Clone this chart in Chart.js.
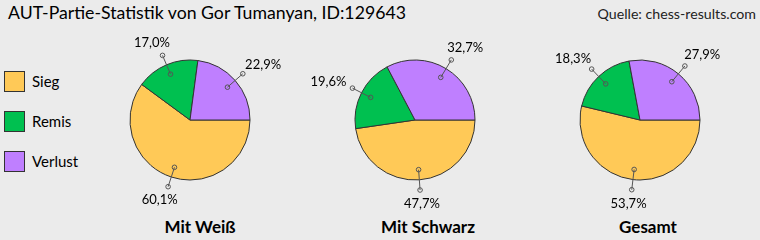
<!DOCTYPE html>
<html>
<head>
<meta charset="utf-8">
<script src="https://cdn.jsdelivr.net/npm/chart.js@4.4.1/dist/chart.umd.min.js"></script>
<style>
  body { margin: 0; width: 760px; height: 240px; background: #ebebeb; overflow: hidden;
         font-family: Lato, "Open Sans", sans-serif; color: #000; position: relative; }
  .abs { position: absolute; white-space: nowrap; }
  #title { left: 8px; top: 2px; font-size: 17.7px; }
  #source { right: 4px; top: 5px; font-size: 14.2px; color: #222; }
  .lg-box { position: absolute; left: 4px; width: 19px; height: 19px; border: 1px solid #333; box-sizing: content-box; }
  .lg-txt { position: absolute; left: 32px; font-size: 15px; line-height: 20px; }
  .sub { position: absolute; top: 216px; font-size: 17px; font-weight: bold; transform: translateX(-50%); white-space: nowrap; }
  canvas { position: absolute; }
</style>
</head>
<body>
<div id="title" class="abs">AUT-Partie-Statistik von Gor Tumanyan, ID:129643</div>
<div id="source" class="abs">Quelle: chess-results.com</div>
<div id="legend"></div>
<div id="subs"></div>
<canvas id="c0" width="240" height="190"></canvas>
<canvas id="c1" width="240" height="190"></canvas>
<canvas id="c2" width="240" height="190"></canvas>
<script>
// Daten (Prozent), Reihenfolge: Sieg, Remis, Verlust
const categories = ["Sieg", "Remis", "Verlust"];
const colors = ["#ffc957", "#00c050", "#bf7fff"];
const pieTitles = ["Mit Weiß", "Mit Schwarz", "Gesamt"];
const weiss = [60.1, 17.0, 22.9];
const schwarz = [47.7, 19.6, 32.7];
const gesamt = [53.7, 18.3, 27.9];
const series = [weiss, schwarz, gesamt];

// Lage der Kreise im Bild
const centersX = [190, 415, 640];
const centerY = 120;
const subX = [200, 428, 648];

// Legende links
const legend = document.getElementById("legend");
categories.forEach((c, i) => {
  const top = 71 + i * 40;
  legend.insertAdjacentHTML("beforeend",
    `<div class="lg-box" style="top:${top}px;background:${colors[i]}"></div>` +
    `<div class="lg-txt" style="top:${top}px">${c}</div>`);
});

const subs = document.getElementById("subs");
pieTitles.forEach((t, i) => {
  subs.insertAdjacentHTML("beforeend", `<div class="sub" style="left:${subX[i]}px">${t}</div>`);
});

const fmt = (v) => v.toFixed(1).replace(".", ",") + "%";

// Beschriftung mit Führungslinie (wie Excel)
const leaderLabels = {
  id: "leaderLabels",
  afterDatasetsDraw(chart) {
    const ctx = chart.ctx;
    const meta = chart.getDatasetMeta(0);
    const vals = chart.data.datasets[0].data;
    ctx.save();
    ctx.font = "13px Lato, sans-serif";
    ctx.textAlign = "center";
    ctx.textBaseline = "middle";
    meta.data.forEach((arc, i) => {
      const p = arc.getProps(["x", "y", "startAngle", "endAngle", "outerRadius"], true);
      const mid = (p.startAngle + p.endAngle) / 2;
      const dx = Math.cos(mid), dy = Math.sin(mid);
      const r = p.outerRadius;
      const x1 = p.x + dx * r * 0.83, y1 = p.y + dy * r * 0.83;
      const x2 = p.x + dx * r * 1.17, y2 = p.y + dy * r * 1.17;
      ctx.strokeStyle = "#555";
      ctx.lineWidth = 1;
      ctx.beginPath();
      ctx.moveTo(x1, y1);
      ctx.lineTo(x2, y2);
      ctx.stroke();
      [[x1, y1], [x2, y2]].forEach(([cx, cy]) => {
        ctx.beginPath();
        ctx.arc(cx, cy, 2.3, 0, Math.PI * 2);
        ctx.stroke();
      });
      const txt = fmt(vals[i]);
      const w = ctx.measureText(txt).width;
      const lx = p.x + dx * r * 1.32 + dx * w / 2;
      const ly = p.y + dy * r * 1.32 + dy * 5;
      ctx.fillStyle = "#000";
      ctx.fillText(txt, lx, ly);
    });
    ctx.restore();
  }
};

series.forEach((data, i) => {
  const cv = document.getElementById("c" + i);
  cv.style.left = (centersX[i] - 120) + "px";
  cv.style.top = (centerY - 95) + "px";
  new Chart(cv, {
    type: "pie",
    data: {
      labels: categories,
      datasets: [{
        data: data,
        backgroundColor: colors,
        borderColor: "#333",
        borderWidth: 1
      }]
    },
    options: {
      responsive: false,
      animation: false,
      events: [],
      rotation: 90,
      radius: 60,
      layout: { padding: 0 },
      plugins: { legend: { display: false }, tooltip: { enabled: false }, title: { display: false } }
    },
    plugins: [leaderLabels]
  });
});
</script>
</body>
</html>
